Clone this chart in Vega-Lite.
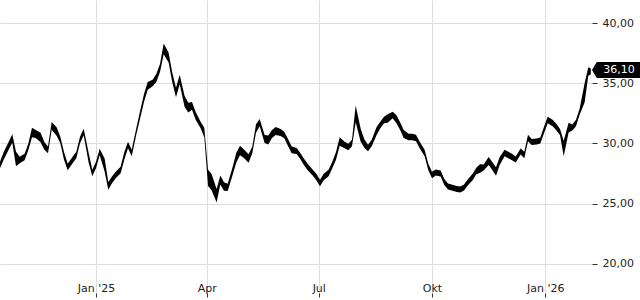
{
  "$schema": "https://vega.github.io/schema/vega-lite/v6.json",
  "width": 592,
  "height": 293,
  "autosize": "none",
  "padding": {"left": 0, "top": 0, "right": 48, "bottom": 7},
  "config": {
    "view": {"stroke": null},
    "font": "DejaVu Sans",
    "locale": {"number": {"decimal": ",", "thousands": ".", "grouping": [3], "currency": ["", " €"]}}
  },
  "datasets": {
    "prices": [
      {"date": "2024-10-15", "high": 28.49, "low": 27.94},
      {"date": "2024-10-18", "high": 29.29, "low": 28.64},
      {"date": "2024-10-22", "high": 30.12, "low": 29.47},
      {"date": "2024-10-25", "high": 30.77, "low": 30.07},
      {"date": "2024-10-28", "high": 29.31, "low": 28.12},
      {"date": "2024-10-31", "high": 28.90, "low": 28.36},
      {"date": "2024-11-04", "high": 29.15, "low": 28.60},
      {"date": "2024-11-07", "high": 29.98, "low": 29.43},
      {"date": "2024-11-10", "high": 31.31, "low": 30.51},
      {"date": "2024-11-13", "high": 31.11, "low": 30.46},
      {"date": "2024-11-17", "high": 30.90, "low": 30.10},
      {"date": "2024-11-20", "high": 30.12, "low": 29.47},
      {"date": "2024-11-23", "high": 29.74, "low": 29.19},
      {"date": "2024-11-26", "high": 31.78, "low": 31.13},
      {"date": "2024-11-30", "high": 31.34, "low": 30.65},
      {"date": "2024-12-03", "high": 30.56, "low": 30.02},
      {"date": "2024-12-06", "high": 29.29, "low": 28.64},
      {"date": "2024-12-09", "high": 28.32, "low": 27.77},
      {"date": "2024-12-13", "high": 28.90, "low": 28.36},
      {"date": "2024-12-16", "high": 29.32, "low": 28.77},
      {"date": "2024-12-19", "high": 30.56, "low": 30.02},
      {"date": "2024-12-22", "high": 31.23, "low": 30.68},
      {"date": "2024-12-26", "high": 29.24, "low": 28.43},
      {"date": "2024-12-29", "high": 27.83, "low": 27.28},
      {"date": "2025-01-01", "high": 28.49, "low": 27.94},
      {"date": "2025-01-04", "high": 29.57, "low": 29.02},
      {"date": "2025-01-08", "high": 28.76, "low": 27.68},
      {"date": "2025-01-11", "high": 26.80, "low": 26.15},
      {"date": "2025-01-14", "high": 27.25, "low": 26.70},
      {"date": "2025-01-17", "high": 27.66, "low": 27.11},
      {"date": "2025-01-21", "high": 28.07, "low": 27.53},
      {"date": "2025-01-24", "high": 29.29, "low": 28.64},
      {"date": "2025-01-27", "high": 30.15, "low": 29.60},
      {"date": "2025-01-30", "high": 29.49, "low": 28.94},
      {"date": "2025-02-03", "high": 31.39, "low": 30.84},
      {"date": "2025-02-06", "high": 32.78, "low": 32.13},
      {"date": "2025-02-09", "high": 34.10, "low": 33.45},
      {"date": "2025-02-12", "high": 35.10, "low": 34.45},
      {"date": "2025-02-16", "high": 35.30, "low": 34.75},
      {"date": "2025-02-19", "high": 35.76, "low": 35.11},
      {"date": "2025-02-22", "high": 36.59, "low": 35.94},
      {"date": "2025-02-25", "high": 38.30, "low": 37.40},
      {"date": "2025-03-01", "high": 37.54, "low": 36.73},
      {"date": "2025-03-04", "high": 35.88, "low": 35.07},
      {"date": "2025-03-07", "high": 34.63, "low": 33.83},
      {"date": "2025-03-10", "high": 35.71, "low": 34.91},
      {"date": "2025-03-14", "high": 33.95, "low": 33.03},
      {"date": "2025-03-17", "high": 33.39, "low": 32.58},
      {"date": "2025-03-20", "high": 33.44, "low": 32.79},
      {"date": "2025-03-23", "high": 32.61, "low": 31.96},
      {"date": "2025-03-27", "high": 31.81, "low": 31.26},
      {"date": "2025-03-30", "high": 31.31, "low": 30.51},
      {"date": "2025-04-02", "high": 27.85, "low": 26.50},
      {"date": "2025-04-05", "high": 27.44, "low": 26.09},
      {"date": "2025-04-09", "high": 26.23, "low": 25.10},
      {"date": "2025-04-12", "high": 27.35, "low": 26.59},
      {"date": "2025-04-15", "high": 26.78, "low": 26.08},
      {"date": "2025-04-18", "high": 26.65, "low": 26.05},
      {"date": "2025-04-22", "high": 28.04, "low": 27.39},
      {"date": "2025-04-25", "high": 29.24, "low": 28.43},
      {"date": "2025-04-28", "high": 29.82, "low": 29.02},
      {"date": "2025-05-01", "high": 29.52, "low": 28.82},
      {"date": "2025-05-05", "high": 29.10, "low": 28.40},
      {"date": "2025-05-08", "high": 29.74, "low": 29.19},
      {"date": "2025-05-11", "high": 31.59, "low": 30.89},
      {"date": "2025-05-14", "high": 32.04, "low": 31.44},
      {"date": "2025-05-18", "high": 30.70, "low": 30.05},
      {"date": "2025-05-21", "high": 30.67, "low": 29.91},
      {"date": "2025-05-24", "high": 31.11, "low": 30.46},
      {"date": "2025-05-27", "high": 31.36, "low": 30.71},
      {"date": "2025-05-31", "high": 31.21, "low": 30.62},
      {"date": "2025-06-03", "high": 30.98, "low": 30.43},
      {"date": "2025-06-06", "high": 30.38, "low": 29.79},
      {"date": "2025-06-09", "high": 29.74, "low": 29.19},
      {"date": "2025-06-13", "high": 29.63, "low": 29.13},
      {"date": "2025-06-16", "high": 29.21, "low": 28.71},
      {"date": "2025-06-19", "high": 28.74, "low": 28.19},
      {"date": "2025-06-22", "high": 28.32, "low": 27.77},
      {"date": "2025-06-26", "high": 27.84, "low": 27.35},
      {"date": "2025-06-29", "high": 27.49, "low": 26.95},
      {"date": "2025-07-02", "high": 27.00, "low": 26.45},
      {"date": "2025-07-05", "high": 27.49, "low": 26.95},
      {"date": "2025-07-09", "high": 27.83, "low": 27.28},
      {"date": "2025-07-12", "high": 28.49, "low": 27.94},
      {"date": "2025-07-15", "high": 29.29, "low": 28.64},
      {"date": "2025-07-18", "high": 30.52, "low": 29.81},
      {"date": "2025-07-22", "high": 30.15, "low": 29.60},
      {"date": "2025-07-25", "high": 29.98, "low": 29.43},
      {"date": "2025-07-28", "high": 30.32, "low": 29.77},
      {"date": "2025-07-31", "high": 33.15, "low": 31.76},
      {"date": "2025-08-04", "high": 31.25, "low": 30.17},
      {"date": "2025-08-07", "high": 30.35, "low": 29.65},
      {"date": "2025-08-10", "high": 29.90, "low": 29.35},
      {"date": "2025-08-13", "high": 30.32, "low": 29.77},
      {"date": "2025-08-17", "high": 31.36, "low": 30.71},
      {"date": "2025-08-20", "high": 31.81, "low": 31.26},
      {"date": "2025-08-23", "high": 32.22, "low": 31.67},
      {"date": "2025-08-26", "high": 32.42, "low": 31.72},
      {"date": "2025-08-30", "high": 32.64, "low": 32.09},
      {"date": "2025-09-02", "high": 32.36, "low": 31.71},
      {"date": "2025-09-05", "high": 31.78, "low": 31.13},
      {"date": "2025-09-08", "high": 31.11, "low": 30.46},
      {"date": "2025-09-12", "high": 30.81, "low": 30.26},
      {"date": "2025-09-15", "high": 30.81, "low": 30.26},
      {"date": "2025-09-18", "high": 30.73, "low": 30.18},
      {"date": "2025-09-21", "high": 30.15, "low": 29.60},
      {"date": "2025-09-25", "high": 29.49, "low": 28.94},
      {"date": "2025-09-28", "high": 28.32, "low": 27.77},
      {"date": "2025-10-01", "high": 27.66, "low": 27.11},
      {"date": "2025-10-04", "high": 27.84, "low": 27.35},
      {"date": "2025-10-08", "high": 27.76, "low": 27.26},
      {"date": "2025-10-11", "high": 27.06, "low": 26.56},
      {"date": "2025-10-14", "high": 26.68, "low": 26.18},
      {"date": "2025-10-17", "high": 26.60, "low": 26.10},
      {"date": "2025-10-21", "high": 26.48, "low": 25.98},
      {"date": "2025-10-24", "high": 26.43, "low": 25.93},
      {"date": "2025-10-27", "high": 26.60, "low": 26.10},
      {"date": "2025-10-30", "high": 27.02, "low": 26.51},
      {"date": "2025-11-03", "high": 27.49, "low": 26.95},
      {"date": "2025-11-06", "high": 27.99, "low": 27.44},
      {"date": "2025-11-09", "high": 28.27, "low": 27.58},
      {"date": "2025-11-12", "high": 28.25, "low": 27.76},
      {"date": "2025-11-16", "high": 28.88, "low": 28.22},
      {"date": "2025-11-19", "high": 28.46, "low": 27.80},
      {"date": "2025-11-22", "high": 28.02, "low": 27.33},
      {"date": "2025-11-25", "high": 28.88, "low": 28.22},
      {"date": "2025-11-29", "high": 29.49, "low": 28.94},
      {"date": "2025-12-02", "high": 29.32, "low": 28.77},
      {"date": "2025-12-05", "high": 29.15, "low": 28.60},
      {"date": "2025-12-08", "high": 28.92, "low": 28.43},
      {"date": "2025-12-12", "high": 29.59, "low": 29.09},
      {"date": "2025-12-15", "high": 29.32, "low": 28.77},
      {"date": "2025-12-18", "high": 30.73, "low": 30.18},
      {"date": "2025-12-21", "high": 30.38, "low": 29.87},
      {"date": "2025-12-25", "high": 30.42, "low": 29.92},
      {"date": "2025-12-28", "high": 30.50, "low": 30.00},
      {"date": "2025-12-31", "high": 31.39, "low": 30.84},
      {"date": "2026-01-03", "high": 32.22, "low": 31.67},
      {"date": "2026-01-07", "high": 31.97, "low": 31.43},
      {"date": "2026-01-10", "high": 31.64, "low": 31.09},
      {"date": "2026-01-13", "high": 31.20, "low": 30.70},
      {"date": "2026-01-16", "high": 30.22, "low": 28.95},
      {"date": "2026-01-20", "high": 31.73, "low": 30.92},
      {"date": "2026-01-23", "high": 31.57, "low": 31.08},
      {"date": "2026-01-26", "high": 31.97, "low": 31.43},
      {"date": "2026-01-29", "high": 32.90, "low": 32.40},
      {"date": "2026-02-02", "high": 35.00, "low": 33.40},
      {"date": "2026-02-05", "high": 36.33, "low": 35.62},
      {"date": "2026-02-07", "high": 36.23, "low": 35.73}
    ],
    "last": [
      {"date": "2026-02-07", "close": 36.10}
    ]
  },
  "layer": [
    {
      "data": {"name": "prices"},
      "mark": {"type": "area", "color": "black", "interpolate": "linear"},
      "encoding": {
        "x": {
          "field": "date",
          "type": "temporal",
          "scale": {
            "type": "utc",
            "nice": false,
            "domain": [
              {"year": 2024, "month": 10, "date": 15, "utc": true},
              {"year": 2026, "month": 2, "date": 8, "utc": true}
            ]
          },
          "axis": {
            "orient": "bottom",
            "title": null,
            "domain": false,
            "values": [
              {"year": 2025, "month": 1, "date": 1, "utc": true},
              {"year": 2025, "month": 4, "date": 1, "utc": true},
              {"year": 2025, "month": 7, "date": 1, "utc": true},
              {"year": 2025, "month": 10, "date": 1, "utc": true},
              {"year": 2026, "month": 1, "date": 1, "utc": true}
            ],
            "labelExpr": "utcmonth(datum.value)==0 ? \"Jan '\" + utcFormat(datum.value, '%y') : ['Jan','Feb','Mär','Apr','Mai','Jun','Jul','Aug','Sep','Okt','Nov','Dez'][utcmonth(datum.value)]",
            "tickSize": 4,
            "tickColor": "#333333",
            "labelPadding": -6,
            "labelBaseline": "alphabetic",
            "labelFontSize": 11,
            "labelColor": "#222222",
            "labelFont": "DejaVu Sans",
            "labelOverlap": false,
            "labelFlush": false,
            "gridColor": "#dddddd",
            "gridWidth": 1
          }
        },
        "y": {
          "field": "high",
          "type": "quantitative",
          "scale": {"domain": [17.59, 41.909], "nice": false, "zero": false},
          "axis": {
            "orient": "right",
            "title": null,
            "values": [20, 25, 30, 35, 40],
            "format": ".2f",
            "domain": false,
            "tickSize": 5,
            "tickColor": "#333333",
            "labelPadding": 5,
            "labelFontSize": 11,
            "labelColor": "#222222",
            "labelFont": "DejaVu Sans",
            "gridColor": "#dddddd",
            "gridWidth": 1
          }
        },
        "y2": {"field": "low"}
      }
    },
    {
      "data": {"name": "last"},
      "mark": {
        "type": "point",
        "shape": "M-1,0L-0.8,-0.333L1,-0.333L1,0.333L-0.8,0.333Z",
        "size": 2304,
        "filled": true,
        "color": "black",
        "opacity": 1,
        "xOffset": 24
      },
      "encoding": {
        "x": {"value": "width"},
        "y": {"field": "close", "type": "quantitative", "axis": {"title": null}}
      }
    },
    {
      "data": {"name": "last"},
      "mark": {
        "type": "text",
        "color": "white",
        "fontSize": 11,
        "font": "DejaVu Sans",
        "align": "center",
        "baseline": "middle",
        "xOffset": 27
      },
      "encoding": {
        "x": {"value": "width"},
        "y": {"field": "close", "type": "quantitative", "axis": {"title": null}},
        "text": {"field": "close", "type": "quantitative", "format": ".2f"}
      }
    }
  ]
}
